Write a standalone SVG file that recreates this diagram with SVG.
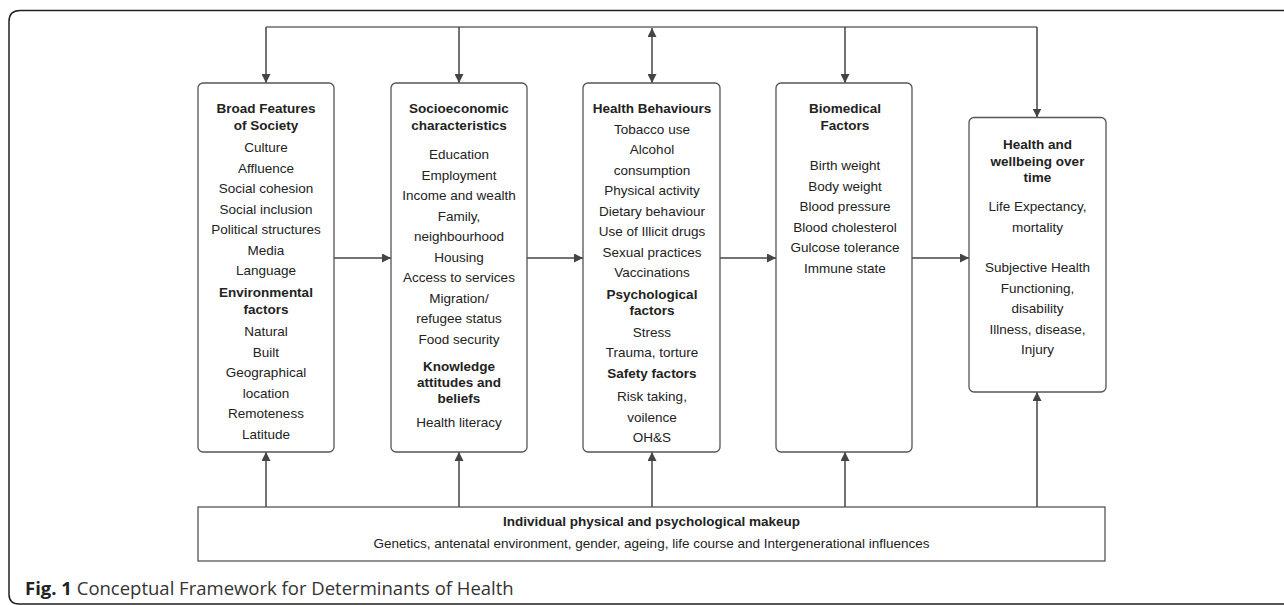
<svg xmlns="http://www.w3.org/2000/svg" width="1284" height="605" viewBox="0 0 1284 605">
<style>
.box{fill:#fff;stroke:#555;stroke-width:1.3}
.t{font-family:"Liberation Sans",Arial,sans-serif;font-size:13.5px;fill:#222;text-anchor:middle}
.b{font-weight:bold}
.c{stroke:#444;stroke-width:1.5;fill:none}
.cap{font-family:"Open Sans","Noto Sans",sans-serif;font-size:18.5px;fill:#333}
</style>
<defs>
<marker id="ah" markerUnits="userSpaceOnUse" viewBox="0 0 10 10" refX="10" refY="5" markerWidth="9" markerHeight="9" orient="auto-start-reverse">
<path d="M0,0 L10,5 L0,10 z" fill="#444"/>
</marker>
</defs>
<path d="M1290,10.5 H20 Q9,10.5 9,21.5 V594 Q9,604 19,604 H1290" fill="none" stroke="#222" stroke-width="1.5"/>
<g id="connectors">
<path d="M266,27 H1037" stroke="#222" stroke-width="1.2" fill="none"/>
<path class="c" d="M266,27 V83" marker-end="url(#ah)"/>
<path class="c" d="M459,27 V83" marker-end="url(#ah)"/>
<path class="c" d="M652,28 V83" marker-start="url(#ah)" marker-end="url(#ah)"/>
<path class="c" d="M845,27 V83" marker-end="url(#ah)"/>
<path class="c" d="M1037,27 V117.5" marker-end="url(#ah)"/>
<path class="c" d="M334,258 H391" marker-end="url(#ah)"/>
<path class="c" d="M527,258 H583" marker-end="url(#ah)"/>
<path class="c" d="M720,258 H776" marker-end="url(#ah)"/>
<path class="c" d="M912,258 H969" marker-end="url(#ah)"/>
<path class="c" d="M266,507 V452" marker-end="url(#ah)"/>
<path class="c" d="M459,507 V452" marker-end="url(#ah)"/>
<path class="c" d="M652,507 V452" marker-end="url(#ah)"/>
<path class="c" d="M845,507 V452" marker-end="url(#ah)"/>
<path class="c" d="M1037,507 V392" marker-end="url(#ah)"/>
</g>
<g id="broad">
<rect class="box" x="198" y="83" width="136" height="369" rx="5"/>
<text class="t b" x="266" y="113">Broad Features</text>
<text class="t b" x="266" y="130">of Society</text>
<text class="t" x="266" y="152">Culture</text>
<text class="t" x="266" y="172.5">Affluence</text>
<text class="t" x="266" y="193">Social cohesion</text>
<text class="t" x="266" y="213.5">Social inclusion</text>
<text class="t" x="266" y="234">Political structures</text>
<text class="t" x="266" y="254.5">Media</text>
<text class="t" x="266" y="275">Language</text>
<text class="t b" x="266" y="297">Environmental</text>
<text class="t b" x="266" y="313.5">factors</text>
<text class="t" x="266" y="336">Natural</text>
<text class="t" x="266" y="356.5">Built</text>
<text class="t" x="266" y="377">Geographical</text>
<text class="t" x="266" y="397.5">location</text>
<text class="t" x="266" y="418">Remoteness</text>
<text class="t" x="266" y="438.5">Latitude</text>
</g>
<g id="socio">
<rect class="box" x="391" y="83" width="136" height="369" rx="5"/>
<text class="t b" x="459" y="113">Socioeconomic</text>
<text class="t b" x="459" y="130">characteristics</text>
<text class="t" x="459" y="159">Education</text>
<text class="t" x="459" y="179.5">Employment</text>
<text class="t" x="459" y="200">Income and wealth</text>
<text class="t" x="459" y="220.5">Family,</text>
<text class="t" x="459" y="241">neighbourhood</text>
<text class="t" x="459" y="261.5">Housing</text>
<text class="t" x="459" y="282">Access to services</text>
<text class="t" x="459" y="302.5">Migration/</text>
<text class="t" x="459" y="323">refugee status</text>
<text class="t" x="459" y="343.5">Food security</text>
<text class="t b" x="459" y="370.5">Knowledge</text>
<text class="t b" x="459" y="387">attitudes and</text>
<text class="t b" x="459" y="403">beliefs</text>
<text class="t" x="459" y="427">Health literacy</text>
</g>
<g id="behaviours">
<rect class="box" x="583" y="83" width="137" height="369" rx="5"/>
<text class="t b" x="652" y="113">Health Behaviours</text>
<text class="t" x="652" y="134">Tobacco use</text>
<text class="t" x="652" y="154">Alcohol</text>
<text class="t" x="652" y="174.5">consumption</text>
<text class="t" x="652" y="195">Physical activity</text>
<text class="t" x="652" y="215.5">Dietary behaviour</text>
<text class="t" x="652" y="236">Use of Illicit drugs</text>
<text class="t" x="652" y="256.5">Sexual practices</text>
<text class="t" x="652" y="277">Vaccinations</text>
<text class="t b" x="652" y="298.5">Psychological</text>
<text class="t b" x="652" y="315">factors</text>
<text class="t" x="652" y="337">Stress</text>
<text class="t" x="652" y="357">Trauma, torture</text>
<text class="t b" x="652" y="378">Safety factors</text>
<text class="t" x="652" y="401">Risk taking,</text>
<text class="t" x="652" y="421.5">voilence</text>
<text class="t" x="652" y="442">OH&amp;S</text>
</g>
<g id="biomedical">
<rect class="box" x="776" y="83" width="136" height="369" rx="5"/>
<text class="t b" x="845" y="113">Biomedical</text>
<text class="t b" x="845" y="130">Factors</text>
<text class="t" x="845" y="170">Birth weight</text>
<text class="t" x="845" y="190.5">Body weight</text>
<text class="t" x="845" y="211">Blood pressure</text>
<text class="t" x="845" y="231.5">Blood cholesterol</text>
<text class="t" x="845" y="252">Gulcose tolerance</text>
<text class="t" x="845" y="272.5">Immune state</text>
</g>
<g id="health">
<rect class="box" x="969" y="117.5" width="137" height="274.5" rx="5"/>
<text class="t b" x="1037.5" y="149">Health and</text>
<text class="t b" x="1037.5" y="165.5">wellbeing over</text>
<text class="t b" x="1037.5" y="181.5">time</text>
<text class="t" x="1037.5" y="211">Life Expectancy,</text>
<text class="t" x="1037.5" y="231.5">mortality</text>
<text class="t" x="1037.5" y="272">Subjective Health</text>
<text class="t" x="1037.5" y="292.5">Functioning,</text>
<text class="t" x="1037.5" y="313">disability</text>
<text class="t" x="1037.5" y="333.5">Illness, disease,</text>
<text class="t" x="1037.5" y="354">Injury</text>
</g>
<g id="makeup">
<rect class="box" x="198" y="507" width="907" height="54"/>
<text class="t b" x="651.5" y="525.5">Individual physical and psychological makeup</text>
<text class="t" x="651.5" y="548">Genetics, antenatal environment, gender, ageing, life course and Intergenerational influences</text>
</g>
<text class="cap" x="25" y="595"><tspan font-weight="bold" fill="#222">Fig. 1</tspan> Conceptual Framework for Determinants of Health</text>
</svg>
